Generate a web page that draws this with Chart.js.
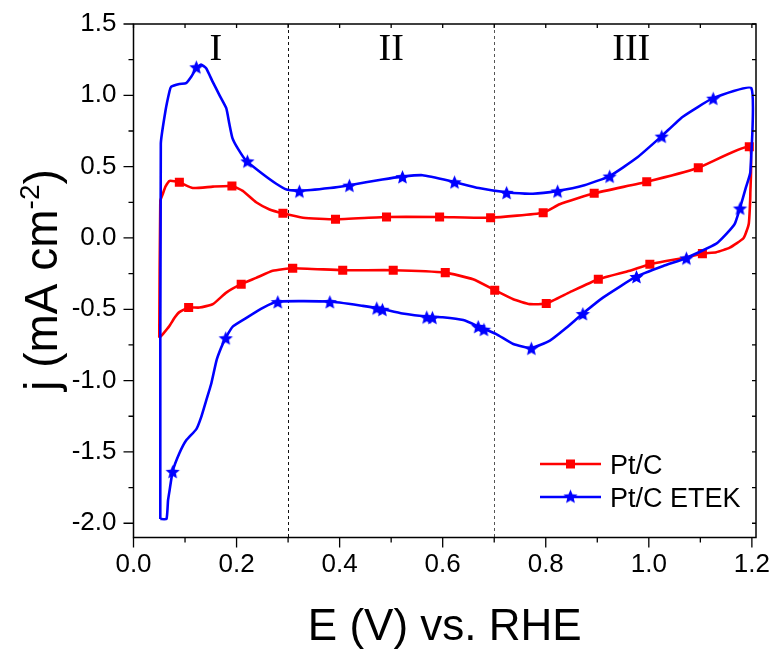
<!DOCTYPE html>
<html>
<head>
<meta charset="utf-8">
<script src="https://cdn.jsdelivr.net/npm/chart.js@4.4.0/dist/chart.umd.min.js"></script>
<style>
  html, body { margin: 0; padding: 0; background: #fff; }
  #wrap { width: 772px; height: 649px; }
</style>
</head>
<body>
<div id="wrap"><canvas id="cvChart" width="772" height="649"></canvas></div>
<script>
// Pt/C: full CV loop, anodic sweep then cathodic sweep (E in V vs RHE, j in mA cm-2)
const ptcV = [0.050, 0.052, 0.057, 0.062, 0.070, 0.089, 0.115, 0.154, 0.191, 0.212, 0.238, 0.264, 0.290,
  0.329, 0.392, 0.491, 0.594, 0.693, 0.795, 0.827, 0.894, 0.996, 1.096, 1.195,
  1.197, 1.194, 1.184, 1.157, 1.131, 1.104, 1.067, 1.002, 0.963, 0.902, 0.847, 0.801, 0.769, 0.737,
  0.701, 0.659, 0.605, 0.504, 0.406, 0.309, 0.270, 0.238, 0.209, 0.180, 0.154, 0.128, 0.107, 0.089,
  0.080, 0.070, 0.057, 0.050];
const ptcJ = [-0.70, 0.26, 0.31, 0.36, 0.40, 0.39, 0.35, 0.36, 0.364, 0.33, 0.25, 0.20, 0.173,
  0.142, 0.131, 0.147, 0.147, 0.142, 0.177, 0.236, 0.313, 0.394, 0.492, 0.64,
  0.31, 0.10, 0.0, -0.068, -0.10, -0.11, -0.14, -0.184, -0.23, -0.29, -0.38, -0.46, -0.464, -0.43,
  -0.366, -0.29, -0.243, -0.226, -0.226, -0.212, -0.23, -0.28, -0.324, -0.383, -0.464, -0.488, -0.488, -0.52,
  -0.558, -0.616, -0.674, -0.70];
const ptcMarkV = [0.089, 0.191, 0.290, 0.392, 0.491, 0.594, 0.693, 0.795, 0.894, 0.996, 1.096, 1.195,
  1.104, 1.002, 0.902, 0.801, 0.701, 0.605, 0.504, 0.406, 0.309, 0.209, 0.107];
const ptcMarkJ = [0.39, 0.364, 0.173, 0.131, 0.147, 0.147, 0.142, 0.177, 0.313, 0.394, 0.492, 0.64,
  -0.11, -0.184, -0.29, -0.46, -0.366, -0.243, -0.226, -0.226, -0.212, -0.324, -0.488];

// Pt/C ETEK: full CV loop
const etekV = [0.052, 0.053, 0.062, 0.070, 0.073, 0.089, 0.102, 0.112, 0.122, 0.131, 0.141, 0.153, 0.167,
  0.180, 0.186, 0.192, 0.202, 0.219, 0.250, 0.277, 0.297, 0.322, 0.381, 0.419, 0.483, 0.522, 0.561,
  0.614, 0.67, 0.724, 0.775, 0.823, 0.875, 0.924, 0.976, 1.025, 1.066, 1.125, 1.199,
  1.197, 1.188, 1.177, 1.167, 1.151, 1.131, 1.073, 1.028, 0.976, 0.911, 0.872, 0.84, 0.808, 0.772,
  0.737, 0.704, 0.675, 0.64, 0.60, 0.575, 0.522, 0.478, 0.445, 0.381, 0.280, 0.251, 0.219, 0.193,
  0.179, 0.170, 0.161, 0.151, 0.141, 0.131, 0.122, 0.102, 0.089, 0.076, 0.070, 0.067, 0.064, 0.052];
const etekJ = [-1.97, 0.66, 0.89, 1.03, 1.06, 1.08, 1.085, 1.13, 1.19, 1.215, 1.19, 1.10, 1.00,
  0.91, 0.80, 0.70, 0.63, 0.54, 0.45, 0.38, 0.34, 0.33, 0.35, 0.37, 0.41, 0.43, 0.44,
  0.40, 0.35, 0.32, 0.31, 0.33, 0.37, 0.434, 0.56, 0.714, 0.85, 0.98, 1.05,
  0.46, 0.35, 0.21, 0.10, 0.03, -0.04, -0.14, -0.196, -0.27, -0.418, -0.53, -0.63, -0.72, -0.772,
  -0.744, -0.674, -0.63, -0.576, -0.556, -0.553, -0.53, -0.495, -0.476, -0.446, -0.446, -0.49, -0.56, -0.62,
  -0.70, -0.77, -0.86, -1.02, -1.14, -1.26, -1.34, -1.42, -1.51, -1.636, -1.77, -1.84, -1.97, -1.97];
const etekMarkV = [0.122, 0.221, 0.322, 0.419, 0.522, 0.623, 0.724, 0.823, 0.924, 1.025, 1.125,
  1.177, 1.073, 0.976, 0.872, 0.772, 0.669, 0.680, 0.569, 0.580, 0.472, 0.483, 0.381, 0.280, 0.179, 0.076];
const etekMarkJ = [1.20, 0.54, 0.33, 0.37, 0.43, 0.394, 0.32, 0.33, 0.434, 0.714, 0.98,
  0.21, -0.14, -0.27, -0.53, -0.772, -0.62, -0.64, -0.553, -0.556, -0.49, -0.50, -0.446, -0.446, -0.70, -1.636];

const xTicks = [0.0, 0.2, 0.4, 0.6, 0.8, 1.0, 1.2];
const yTicks = [-2.0, -1.5, -1.0, -0.5, 0.0, 0.5, 1.0, 1.5];
const regionBounds = [0.3, 0.7];
const regionNames = ["I", "II", "III"];
const seriesNames = ["Pt/C", "Pt/C ETEK"];

const RED = '#ff0000';
const BLUE = '#0000ff';
const SANS = '"Liberation Sans", Arial, sans-serif';

Chart.defaults.font.family = SANS;
Chart.defaults.color = '#000';

function starImage(color, r) {
  const s = Math.ceil(r * 2 + 2);
  const c = document.createElement('canvas');
  c.width = s; c.height = s;
  const g = c.getContext('2d');
  g.fillStyle = color;
  g.beginPath();
  for (let i = 0; i < 10; i++) {
    const rad = i % 2 ? r * 0.45 : r;
    const a = -Math.PI / 2 + i * Math.PI / 5;
    const px = s / 2 + rad * Math.cos(a), py = s / 2 + 1 + rad * Math.sin(a);
    if (i) g.lineTo(px, py); else g.moveTo(px, py);
  }
  g.closePath();
  g.fill();
  return c;
}
const blueStar = starImage(BLUE, 7.5);

const toPts = (xs, ys) => xs.map((x, i) => ({ x: x, y: ys[i] }));

// dashed region dividers, drawn under the curves
const dividers = {
  id: 'dividers',
  beforeDatasetsDraw(chart) {
    const { ctx, chartArea: a, scales: { x } } = chart;
    ctx.save();
    ctx.lineWidth = 1;
    ctx.setLineDash([3, 3]);
    regionBounds.forEach((v, i) => {
      ctx.strokeStyle = i ? '#555' : '#111';
      const px = Math.round(x.getPixelForValue(v)) + 0.5;
      ctx.beginPath();
      ctx.moveTo(px, a.top);
      ctx.lineTo(px, a.bottom);
      ctx.stroke();
    });
    ctx.restore();
  }
};

// frame, tick marks, titles, region labels and legend
const decor = {
  id: 'decor',
  afterDatasetsDraw(chart) {
    const { ctx, chartArea: a, scales: { x, y } } = chart;
    ctx.save();
    ctx.strokeStyle = '#000';
    ctx.lineWidth = 1.5;
    ctx.strokeRect(a.left, a.top, a.right - a.left, a.bottom - a.top);

    ctx.lineWidth = 1.3;
    ctx.beginPath();
    for (let k = 0; k <= 12; k++) {
      const px = x.getPixelForValue(k / 10);
      const len = k % 2 ? 5 : 10;
      ctx.moveTo(px, a.bottom); ctx.lineTo(px, a.bottom + len);
      ctx.moveTo(px, a.top); ctx.lineTo(px, a.top + 4);
    }
    for (let k = -8; k <= 6; k++) {
      const py = y.getPixelForValue(k / 4);
      const len = k % 2 ? 5 : 10;
      ctx.moveTo(a.left, py); ctx.lineTo(a.left - len, py);
      ctx.moveTo(a.right, py); ctx.lineTo(a.right - 4, py);
    }
    ctx.stroke();

    // region numerals
    ctx.fillStyle = '#000';
    ctx.font = '38px "Liberation Serif", "Times New Roman", serif';
    ctx.textAlign = 'center';
    ctx.textBaseline = 'alphabetic';
    const mids = [0.16, 0.5, 0.966];
    regionNames.forEach((t, i) => ctx.fillText(t, x.getPixelForValue(mids[i]), a.top + 36));

    // x axis title
    ctx.font = '44px ' + SANS;
    ctx.fillText('E (V) vs. RHE', (a.left + a.right) / 2, 640);

    // y axis title with superscript
    ctx.save();
    ctx.translate(57, 280);
    ctx.rotate(-Math.PI / 2);
    ctx.textAlign = 'left';
    const big = '46px ' + SANS, small = '28px ' + SANS;
    ctx.font = big;
    const w1 = ctx.measureText('j (mA cm').width;
    const w3 = ctx.measureText(')').width;
    ctx.font = small;
    const w2 = ctx.measureText('-2').width;
    let cx = -(w1 + w2 + w3) / 2;
    ctx.font = big; ctx.fillText('j (mA cm', cx, 0); cx += w1;
    ctx.font = small; ctx.fillText('-2', cx, -18); cx += w2;
    ctx.font = big; ctx.fillText(')', cx, 0);
    ctx.restore();

    // legend
    ctx.font = '27px ' + SANS;
    ctx.textAlign = 'left';
    ctx.lineWidth = 2.5;
    const rows = [464, 497];
    rows.forEach((ly, i) => {
      ctx.strokeStyle = i ? BLUE : RED;
      ctx.beginPath(); ctx.moveTo(540, ly); ctx.lineTo(601, ly); ctx.stroke();
      if (i) {
        ctx.drawImage(blueStar, 570.5 - blueStar.width / 2, ly - blueStar.height / 2 - 1);
      } else {
        ctx.fillStyle = RED;
        ctx.fillRect(566, ly - 4.5, 9, 9);
      }
      ctx.fillStyle = '#000';
      ctx.fillText(seriesNames[i], 610, ly + 10);
    });
    ctx.restore();
  }
};

new Chart(document.getElementById('cvChart'), {
  type: 'scatter',
  data: {
    datasets: [
      { label: seriesNames[1], data: toPts(etekMarkV, etekMarkJ), showLine: false,
        pointStyle: blueStar, pointRadius: 8, order: 0 },
      { label: seriesNames[1], data: toPts(etekV, etekJ), showLine: true, borderColor: BLUE,
        borderWidth: 2.6, pointRadius: 0, tension: 0.15, order: 1 },
      { label: seriesNames[0], data: toPts(ptcMarkV, ptcMarkJ), showLine: false, pointStyle: 'rect',
        pointRadius: 6.4, backgroundColor: RED, borderWidth: 0, order: 2 },
      { label: seriesNames[0], data: toPts(ptcV, ptcJ), showLine: true, borderColor: RED,
        borderWidth: 2.6, pointRadius: 0, tension: 0.15, order: 3 }
    ]
  },
  options: {
    responsive: false,
    animation: false,
    devicePixelRatio: 1,
    layout: { padding: { top: 24, right: 16, left: 0, bottom: 0 } },
    plugins: { legend: { display: false }, tooltip: { enabled: false } },
    scales: {
      x: {
        type: 'linear', min: 0, max: 1.208,
        grid: { display: false, drawTicks: false },
        border: { display: false },
        afterBuildTicks: s => { s.ticks = xTicks.map(v => ({ value: v })); },
        afterFit: s => { s.height = 111.5; s.paddingLeft = 0; s.paddingRight = 0; },
        ticks: { font: { size: 26 }, padding: 12, maxRotation: 0, callback: v => v.toFixed(1) }
      },
      y: {
        type: 'linear', min: -2.1, max: 1.5,
        grid: { display: false, drawTicks: false },
        border: { display: false },
        afterBuildTicks: s => { s.ticks = yTicks.map(v => ({ value: v })); },
        afterFit: s => { s.width = 133.5; s.paddingTop = 0; s.paddingBottom = 0; },
        ticks: { font: { size: 26 }, padding: 17, callback: v => v.toFixed(1) }
      }
    }
  },
  plugins: [dividers, decor]
});
</script>
</body>
</html>
